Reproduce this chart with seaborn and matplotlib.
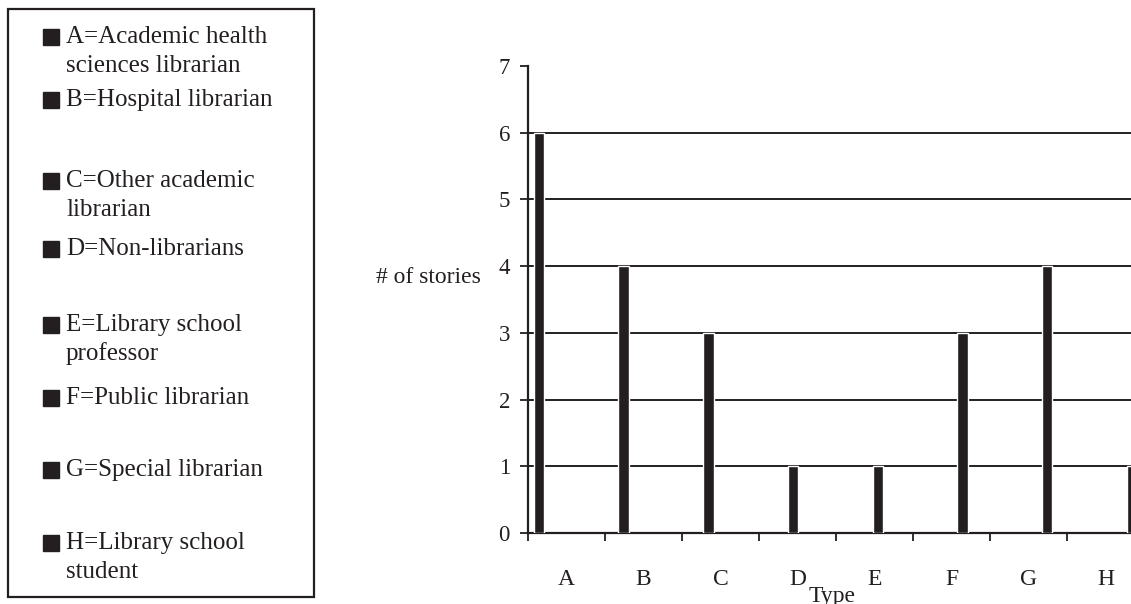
import matplotlib
matplotlib.use("Agg")
import matplotlib.pyplot as plt
import seaborn as sns
import pandas as pd
from matplotlib.patches import Rectangle

# data
types = ["A", "B", "C", "D", "E", "F", "G", "H"]
stories = [6, 4, 3, 1, 1, 3, 4, 1]
legend_labels = [
    ["A=Academic health", "sciences librarian"],
    ["B=Hospital librarian"],
    ["C=Other academic", "librarian"],
    ["D=Non-librarians"],
    ["E=Library school", "professor"],
    ["F=Public librarian"],
    ["G=Special librarian"],
    ["H=Library school", "student"],
]

df = pd.DataFrame({"Type": types, "stories": stories})

W, H = 1131, 604
ink = "#231f20"
sns.set_style("white")
plt.rcParams["font.family"] = ["Liberation Serif", "DejaVu Serif"]

fig = plt.figure(figsize=(W / 100, H / 100), dpi=100)

def px(x, y):
    return x / W, 1 - y / H

# plot area in pixels
x0, x1, y0, y1 = 528, 1131, 533, 66
ax = fig.add_axes([x0 / W, 1 - y0 / H, (x1 - x0) / W, (y0 - y1) / H])

sns.barplot(data=df, x="Type", y="stories", order=types, color=ink,
            saturation=1, width=0.125, ax=ax, zorder=3)

# bars sit on a wider pitch than the category slots in the original
bar_pitch = 84.7
left = (x0 - 539) / bar_pitch
ax.set_xlim(left, (x1 - 539) / bar_pitch)
ax.set_ylim(0, 7)

slot = 77 / bar_pitch
ax.set_xticks([left + slot * k for k in range(8)])
ax.set_xticklabels([])
ax.set_xticks([left + slot * (k + 0.5) for k in range(len(types))], minor=True)
ax.set_xticklabels(types, minor=True)
ax.tick_params(axis="x", which="major", direction="out", length=6, width=1.3,
               color=ink, bottom=True)
ax.tick_params(axis="x", which="minor", length=0, pad=26, labelsize=17,
               labelcolor=ink)

ax.set_yticks(range(8))
ax.tick_params(axis="y", direction="out", length=6, width=1.3, color=ink,
               left=True, pad=7, labelsize=16.5, labelcolor=ink)

for v in range(1, 7):
    ax.axhline(v, color=ink, lw=1.4, zorder=1)

for s in ["top", "right"]:
    ax.spines[s].set_visible(False)
for s in ["left", "bottom"]:
    ax.spines[s].set_color(ink)
    ax.spines[s].set_linewidth(1.6)

ax.set_xlabel("Type", fontsize=17, color=ink)
ax.xaxis.set_label_coords(0.504, -0.114)
ax.set_ylabel("# of stories", fontsize=17, color=ink, rotation=0,
              ha="right", va="center")
ax.yaxis.set_label_coords(-0.078, 0.548)

# legend box drawn at the left
bx0, by0, bx1, by1 = 8, 9, 314, 597
fig.patches.append(Rectangle(px(bx0, by1), (bx1 - bx0) / W, (by1 - by0) / H,
                             transform=fig.transFigure, fill=False,
                             edgecolor=ink, lw=1.6))
entry_y = [37, 100, 181, 249, 325, 398, 470, 543]
line_gap = 29
sq = 16
for yy, lines in zip(entry_y, legend_labels):
    sx, sy = px(43, yy + sq / 2)
    fig.patches.append(Rectangle((sx, sy), sq / W, sq / H,
                                 transform=fig.transFigure, color=ink))
    for i, t in enumerate(lines):
        tx, ty = px(66, yy + i * line_gap)
        fig.text(tx, ty, t, fontsize=18, color=ink, ha="left", va="center")

fig.savefig("out.png", dpi=100)
